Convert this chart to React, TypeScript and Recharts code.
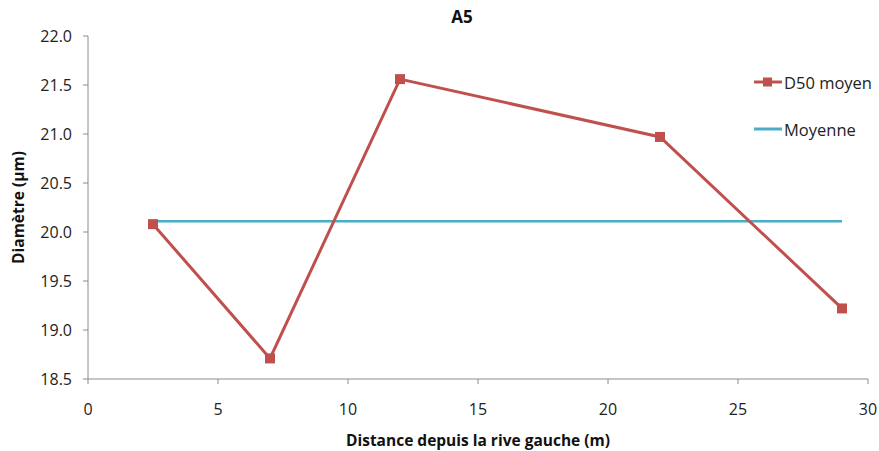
import { LineChart, Line, XAxis, YAxis } from 'recharts';

// Values
const distances = [2.5, 7, 12, 22, 29];
const d50Moyen = [20.08, 18.71, 21.56, 20.97, 19.22];
const moyenne = 20.11;
const xTicks = [0, 5, 10, 15, 20, 25, 30];
const yTicks = [18.5, 19.0, 19.5, 20.0, 20.5, 21.0, 21.5, 22.0];

const RED = '#C0504D';
const TEAL = '#4BACC6';
const FONT = '"Open Sans", "Liberation Sans", sans-serif';

const chartData = distances.map((d, i) => ({
    distance: d,
    d50: d50Moyen[i],
    moyenne: moyenne,
}));

const SquareDot = (props: any) => {
    const { cx, cy } = props;
    if (cx == null || cy == null) return null;
    return <rect x={cx - 5} y={cy - 5} width={10} height={10} fill={RED} />;
};

const ChartLegend = () => (
    <div style={{ position: 'absolute', left: 754, top: 71, fontFamily: FONT, fontSize: 16.5, color: '#222' }}>
        <div style={{ display: 'flex', alignItems: 'center', height: 22 }}>
            <svg width={28} height={12}>
                <line x1={0} y1={6} x2={28} y2={6} stroke={RED} strokeWidth={3} />
                <rect x={9} y={1.5} width={9} height={9} fill={RED} />
            </svg>
            <span style={{ marginLeft: 2 }}>D50 moyen</span>
        </div>
        <div style={{ display: 'flex', alignItems: 'center', height: 22, marginTop: 25 }}>
            <svg width={28} height={12}>
                <line x1={0} y1={6} x2={28} y2={6} stroke={TEAL} strokeWidth={3} />
            </svg>
            <span style={{ marginLeft: 2 }}>Moyenne</span>
        </div>
    </div>
);

const App = () => {
    const tickStyle = { fontFamily: FONT, fontSize: 16, fill: '#222' };
    return (
        <div style={{ position: 'absolute', left: 0, top: 0, width: 879, height: 451, background: '#fff' }}>
            <LineChart
                width={879}
                height={451}
                data={chartData}
                margin={{ top: 36, right: 11, bottom: 42, left: 28 }}
            >
                <XAxis
                    dataKey="distance"
                    type="number"
                    domain={[0, 30]}
                    ticks={xTicks}
                    tick={tickStyle}
                    tickSize={5}
                    tickMargin={20}
                    stroke="#8c8c8c"
                    height={30}
                    label={{
                        value: 'Distance depuis la rive gauche (m)',
                        position: 'insideBottom',
                        offset: -37,
                        style: { fontFamily: FONT, fontWeight: 'bold', fontSize: 15.5, fill: '#111' },
                    }}
                />
                <YAxis
                    type="number"
                    domain={[18.5, 22]}
                    ticks={yTicks}
                    tickFormatter={(v: number) => v.toFixed(1)}
                    tick={tickStyle}
                    tickSize={5}
                    tickMargin={11}
                    stroke="#8c8c8c"
                    width={60}
                    label={{
                        value: 'Diamètre (µm)',
                        angle: -90,
                        position: 'insideLeft',
                        offset: -10,
                        style: { textAnchor: 'middle', fontFamily: FONT, fontWeight: 'bold', fontSize: 15.5, fill: '#111' },
                    }}
                />
                <Line
                    dataKey="moyenne"
                    name="Moyenne"
                    stroke={TEAL}
                    strokeWidth={2.5}
                    dot={false}
                    isAnimationActive={false}
                />
                <Line
                    dataKey="d50"
                    name="D50 moyen"
                    stroke={RED}
                    strokeWidth={3}
                    dot={<SquareDot />}
                    activeDot={false}
                    isAnimationActive={false}
                />
            </LineChart>
            <div
                style={{
                    position: 'absolute', left: 440, top: 5, width: 44, textAlign: 'center',
                    fontFamily: FONT, fontWeight: 'bold', fontSize: 17, color: '#111',
                }}
            >
                A5
            </div>
            <ChartLegend />
        </div>
    );
};

export default App;
